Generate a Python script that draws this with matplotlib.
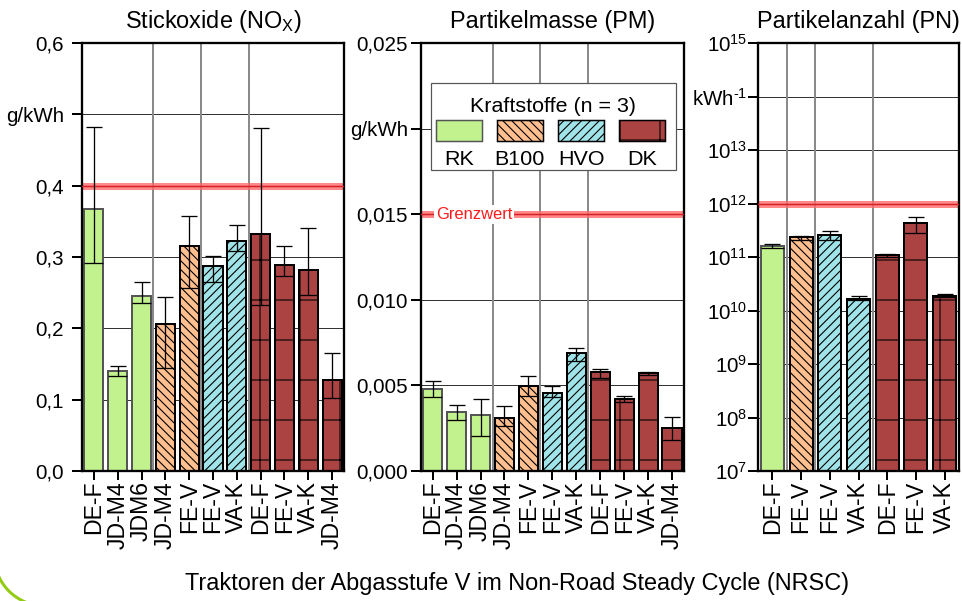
import numpy as np
import matplotlib
matplotlib.use("Agg")
import matplotlib.pyplot as plt
from matplotlib.patches import Rectangle, Arc
from matplotlib.ticker import NullLocator
from matplotlib.transforms import IdentityTransform

# Figure is laid out in pixels; a high dpi keeps hatch spacing close to the original
W, H, DPI = 962, 601, 240
PT = 72 / DPI


def px(v):
    return v * PT


plt.rcParams["font.family"] = ["Liberation Sans", "DejaVu Sans"]
plt.rcParams["mathtext.fontset"] = "custom"
plt.rcParams["mathtext.rm"] = "Liberation Sans"
plt.rcParams["mathtext.it"] = "Liberation Sans:italic"
plt.rcParams["mathtext.bf"] = "Liberation Sans:bold"
plt.rcParams["hatch.linewidth"] = px(1.1)

# Data
FUELS = ["RK", "B100", "HVO", "DK"]
FILL = {"RK": "#c2f28e", "B100": "#ffbf8e", "HVO": "#a0e4e9", "DK": "#ab4343"}
EDGE = {"RK": "#555555", "B100": "black", "HVO": "black", "DK": "black"}
HATCH = {"RK": "", "B100": "\\" * 9, "HVO": "/" * 9, "DK": "+"}

NOX_LABELS = ["DE-F", "JD-M4", "JDM6", "JD-M4", "FE-V", "FE-V", "VA-K",
              "DE-F", "FE-V", "VA-K", "JD-M4"]
NOX_FUELS = ["RK", "RK", "RK", "B100", "B100", "HVO", "HVO", "DK", "DK", "DK", "DK"]
NOX_MEAN = [0.367, 0.140, 0.246, 0.206, 0.315, 0.287, 0.322, 0.332, 0.289, 0.282, 0.127]
NOX_LOW = [0.292, 0.133, 0.236, 0.145, 0.256, 0.265, 0.308, 0.233, 0.274, 0.247, 0.103]
NOX_HIGH = [0.482, 0.147, 0.265, 0.244, 0.357, 0.301, 0.345, 0.481, 0.315, 0.340, 0.166]
NOX_LIMIT = 0.4
NOX_TICKS = [0.0, 0.1, 0.2, 0.3, 0.4, 0.5, 0.6]

PM_LABELS = NOX_LABELS
PM_FUELS = NOX_FUELS
PM_MEAN = [0.00477, 0.00342, 0.00329, 0.00309, 0.00496, 0.00457, 0.00690,
           0.00576, 0.00418, 0.00570, 0.00251]
PM_LOW = [0.00430, 0.00296, 0.00206, 0.00260, 0.00441, 0.00430, 0.00644,
          0.00541, 0.00404, 0.00562, 0.00183]
PM_HIGH = [0.00523, 0.00385, 0.00420, 0.00379, 0.00554, 0.00496, 0.00716,
           0.00597, 0.00441, 0.00579, 0.00313]
PM_LIMIT = 0.015
PM_TICKS = [0.0, 0.005, 0.010, 0.015, 0.020, 0.025]

PN_LABELS = ["DE-F", "FE-V", "FE-V", "VA-K", "DE-F", "FE-V", "VA-K"]
PN_FUELS = ["RK", "B100", "HVO", "HVO", "DK", "DK", "DK"]
PN_MEAN = [1.64e11, 2.32e11, 2.60e11, 1.65e10, 1.07e11, 4.24e11, 1.85e10]
PN_LOW = [1.46e11, 2.07e11, 2.12e11, 1.56e10, 1.00e11, 2.87e11, 1.75e10]
PN_HIGH = [1.74e11, 2.50e11, 3.04e11, 1.83e10, 1.16e11, 5.48e11, 2.02e10]
PN_LIMIT = 1e12
PN_EXP = [7, 8, 9, 10, 11, 12, 13, 14, 15]


def comma(v, nd):
    return f"{v:.{nd}f}".replace(".", ",")


fig = plt.figure(figsize=(W / DPI, H / DPI), dpi=DPI)


def add_axes_px(x0, y0, x1, y1):
    return fig.add_axes([x0 / W, 1 - y1 / H, (x1 - x0) / W, (y1 - y0) / H])


def draw_panel(ax, labels, fuels, mean, low, high, limit, title, ypad):
    x = np.arange(len(labels))
    mean = np.asarray(mean)
    bars = ax.bar(x, mean, width=0.8, zorder=2, linewidth=px(2))
    for patch, f in zip(bars, fuels):
        patch.set_facecolor(FILL[f])
        patch.set_edgecolor(EDGE[f])
        patch.set_hatch(HATCH[f])

    # error bars: whisker + short top cap, lower end as line across the bar
    ax.vlines(x, low, high, color="black", lw=px(1.3), zorder=3)
    ax.plot(x, high, ls="none", marker="_", ms=px(16), mew=px(1.3),
            color="black", zorder=3)
    ax.hlines(low, x - 0.4, x + 0.4, color="black", lw=px(1.3), zorder=3)

    # fuel group separators
    for i in range(len(fuels) - 1):
        if fuels[i] != fuels[i + 1]:
            ax.axvline(i + 0.5, color="#8a8a8a", lw=px(2), zorder=0.8)

    ax.axhline(limit, color="#ff6a6a", alpha=0.8, lw=px(7), zorder=2.5)
    ax.axhline(limit, color="#d61f26", lw=px(1.5), zorder=2.6)

    ax.set_xlim(-0.5, len(labels) - 0.5)
    ax.set_xticks(x, labels)
    ax.yaxis.grid(True, color="#333333", lw=px(1))
    ax.set_axisbelow(True)
    for sp in ax.spines.values():
        sp.set_linewidth(px(2.3))
    ax.tick_params(axis="y", length=px(10), width=px(2), pad=px(ypad),
                   labelsize=px(20.5))
    ax.tick_params(axis="x", length=px(9), width=px(2), pad=px(1),
                   labelsize=px(23), labelrotation=90)
    ax.set_title(title, fontsize=px(23.5), pad=px(15))


# NOx
ax1 = add_axes_px(82, 43, 344, 471)
draw_panel(ax1, NOX_LABELS, NOX_FUELS, NOX_MEAN, NOX_LOW, NOX_HIGH, NOX_LIMIT,
           r"Stickoxide (NO$_{\mathregular{X}}$)", 8)
nox_lbl = [comma(t, 1) for t in NOX_TICKS]
nox_lbl[5] = "g/kWh"
ax1.set_yticks(NOX_TICKS, nox_lbl)
ax1.set_ylim(0, 0.6)

# PM
ax2 = add_axes_px(420.7, 43, 684, 471)
draw_panel(ax2, PM_LABELS, PM_FUELS, PM_MEAN, PM_LOW, PM_HIGH, PM_LIMIT,
           "Partikelmasse (PM)", 2.5)
pm_lbl = [comma(t, 3) for t in PM_TICKS]
pm_lbl[4] = "g/kWh"
ax2.set_yticks(PM_TICKS, pm_lbl)
ax2.set_ylim(0, 0.025)
ax2.text(0.058, PM_LIMIT, "Grenzwert", transform=ax2.get_yaxis_transform(),
         color="#ff1a1a", fontsize=px(16.5), ha="left", va="center", zorder=4,
         bbox=dict(facecolor="white", edgecolor="none", pad=px(2)))

# PN
ax3 = add_axes_px(758, 43, 959, 471)
ax3.set_yscale("log")
draw_panel(ax3, PN_LABELS, PN_FUELS, PN_MEAN, PN_LOW, PN_HIGH, PN_LIMIT,
           "Partikelanzahl (PN)", 1)
pn_ticks = [10.0 ** e for e in PN_EXP]
pn_lbl = [r"$\mathregular{10^{%d}}$" % e for e in PN_EXP]
pn_lbl[PN_EXP.index(14)] = "kWh$^{\\mathregular{\u20101}}$"
ax3.set_yticks(pn_ticks, pn_lbl)
ax3.yaxis.set_minor_locator(NullLocator())
ax3.set_ylim(1e7, 1e15)


# legend, drawn by hand so the labels sit under the swatches
def fx(v):
    return v / W


def fy(v):
    return 1 - v / H


box = Rectangle((fx(431), fy(170)), (676 - 431) / W, (170 - 83) / H,
                transform=fig.transFigure, facecolor="white",
                edgecolor="#555555", lw=px(1.2), zorder=5)
fig.add_artist(box)
fig.text(fx(553.5), fy(111.5), "Kraftstoffe (n = 3)", fontsize=px(21.5),
         ha="center", va="baseline", zorder=6)
sw_x = [436, 497, 558.3, 619.3]
for f, x0 in zip(FUELS, sw_x):
    sw = Rectangle((fx(x0), fy(141)), 45.7 / W, 21 / H, transform=fig.transFigure,
                   facecolor=FILL[f], edgecolor=EDGE[f], hatch=HATCH[f],
                   lw=px(1.5), zorder=6)
    fig.add_artist(sw)
    fig.text(fx(x0 + 22.85), fy(165), f, fontsize=px(21.5), ha="center",
             va="baseline", zorder=6)

fig.text(fx(517), fy(590), "Traktoren der Abgasstufe V im Non-Road Steady Cycle (NRSC)",
         fontsize=px(23.5), ha="center", va="baseline")

# green slide decoration in the lower left corner
fig.add_artist(Arc((45, H - 555), 102, 102, theta1=180, theta2=270,
                   transform=IdentityTransform(), color="#92cc12", lw=px(3)))

fig.savefig("out.png", dpi=DPI)
